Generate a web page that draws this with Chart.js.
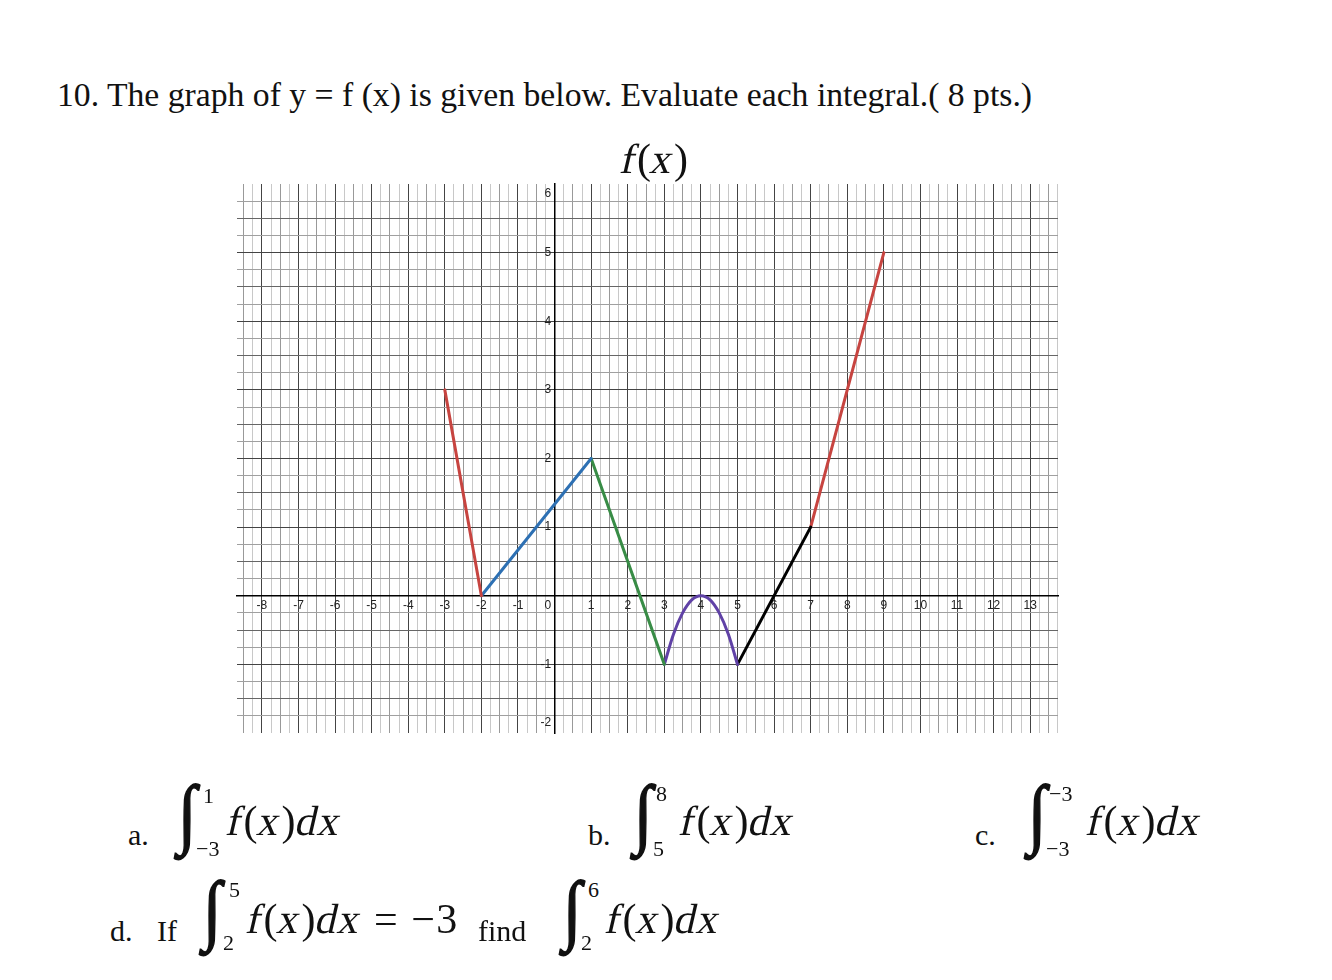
<!DOCTYPE html>
<html>
<head>
<meta charset="utf-8">
<script src="https://cdn.jsdelivr.net/npm/chart.js@4.4.1/dist/chart.umd.min.js"></script>
<style>
  html, body { margin: 0; padding: 0; background: #fff; }
  body { width: 1332px; height: 980px; position: relative; overflow: hidden; font-family: "Liberation Serif", serif; color: #111; }
  .abs { position: absolute; white-space: nowrap; line-height: 1; }
  .q { left: 57px; top: 78px; font-size: 33.7px; }
  .ttl { left: 622px; top: 138px; font-size: 42px; letter-spacing: 1px; }
  .lbl { font-size: 30px; }
  .int { font-size: 62px; transform: scale(1.1, 1.25); transform-origin: 0 0; -webkit-text-stroke: 1.2px #111; }
  .lim { font-size: 22px; }
  .body { font-size: 42px; letter-spacing: 1.5px; }
  .it { display: inline-block; transform: skewX(-13deg); }
</style>
</head>
<body>
<div class="abs q">10. The graph of y = f (x) is given below. Evaluate each integral.( 8 pts.)</div>

<div style="position:absolute;left:197px;top:144px;width:901px;height:629px;"><canvas id="graph" width="901" height="629"></canvas></div>
<div class="abs ttl"><span class="it">f</span>(<span class="it">x</span>)</div>

<!-- a -->
<div class="abs lbl" style="left:128px;top:820px;">a.</div>
<div class="abs int" style="left:178px;top:774px;">∫</div>
<div class="abs lim" style="left:203px;top:785px;">1</div>
<div class="abs lim" style="left:196px;top:838px;">−3</div>
<div class="abs body" style="left:228px;top:800px;"><span class="it">f</span>(<span class="it">x</span>)<span class="it">dx</span></div>

<!-- b -->
<div class="abs lbl" style="left:588px;top:820px;">b.</div>
<div class="abs int" style="left:634px;top:774px;">∫</div>
<div class="abs lim" style="left:656px;top:783px;">8</div>
<div class="abs lim" style="left:653px;top:838px;">5</div>
<div class="abs body" style="left:681px;top:800px;"><span class="it">f</span>(<span class="it">x</span>)<span class="it">dx</span></div>

<!-- c -->
<div class="abs lbl" style="left:975px;top:820px;">c.</div>
<div class="abs int" style="left:1028px;top:774px;">∫</div>
<div class="abs lim" style="left:1049px;top:783px;">−3</div>
<div class="abs lim" style="left:1046px;top:838px;">−3</div>
<div class="abs body" style="left:1088px;top:800px;"><span class="it">f</span>(<span class="it">x</span>)<span class="it">dx</span></div>

<!-- d -->
<div class="abs lbl" style="left:110px;top:916px;">d.</div>
<div class="abs lbl" style="left:157px;top:916px;">If</div>
<div class="abs int" style="left:203px;top:870px;">∫</div>
<div class="abs lim" style="left:229px;top:879px;">5</div>
<div class="abs lim" style="left:223px;top:932px;">2</div>
<div class="abs body" style="left:248px;top:898px;"><span class="it">f</span>(<span class="it">x</span>)<span class="it">dx</span> = −3</div>
<div class="abs lbl" style="left:478px;top:916px;">find</div>
<div class="abs int" style="left:563px;top:870px;">∫</div>
<div class="abs lim" style="left:588px;top:879px;">6</div>
<div class="abs lim" style="left:581px;top:932px;">2</div>
<div class="abs body" style="left:607px;top:898px;"><span class="it">f</span>(<span class="it">x</span>)<span class="it">dx</span></div>

<script>
// graph pieces of y = f(x)
const redLeftX  = [-3, -2];
const redLeftY  = [3, 0];
const blueX     = [-2, 1];
const blueY     = [0, 2];
const greenX    = [1, 3];
const greenY    = [2, -1];
const arcX      = [3, 3.25, 3.5, 3.75, 4, 4.25, 4.5, 4.75, 5];
const arcY      = [-1, -0.56, -0.25, -0.06, 0, -0.06, -0.25, -0.56, -1];
const blackX    = [5, 7];
const blackY    = [-1, 1];
const redRightX = [7, 9];
const redRightY = [1, 5];

const xLabels = [-8, -7, -6, -5, -4, -3, -2, -1, 1, 2, 3, 4, 5, 6, 7, 8, 9, 10, 11, 12, 13];
const yLabels = [-2, -1, 0, 1, 2, 3, 4, 5, 6];

const pts = (xs, ys) => xs.map((x, i) => ({ x, y: ys[i] }));

const line = (label, xs, ys, color, extra) => ({
  label,
  data: pts(xs, ys),
  showLine: true,
  borderColor: color,
  backgroundColor: color,
  borderWidth: 3,
  pointRadius: 0,
  borderCapStyle: 'round',
  borderJoinStyle: 'round',
  ...extra,
});

const isInt = v => Math.abs(v - Math.round(v)) < 1e-9;
const isHalf = v => Math.abs(v * 2 - Math.round(v * 2)) < 1e-9;

const tickFont = { family: '"Liberation Sans", Arial, sans-serif', size: 12 };

new Chart(document.getElementById('graph'), {
  type: 'scatter',
  data: {
    datasets: [
      line('red left',  redLeftX,  redLeftY,  '#c74440'),
      line('blue',      blueX,     blueY,     '#2d70b3'),
      line('green',     greenX,    greenY,    '#388c46'),
      line('purple',    arcX,      arcY,      '#6042a6', { cubicInterpolationMode: 'monotone' }),
      line('black',     blackX,    blackY,    '#000000'),
      line('red right', redRightX, redRightY, '#c74440'),
    ],
  },
  options: {
    responsive: false,
    animation: false,
    layout: { padding: 40 },
    plugins: { legend: { display: false }, tooltip: { enabled: false }, title: { display: false } },
    scales: {
      x: {
        type: 'linear',
        min: -8.68,
        max: 13.76,
        position: { y: 0 },
        border: { color: '#000', width: 1.5 },
        grid: {
          drawTicks: false,
          lineWidth: 1,
          color: ctx => isInt(ctx.tick.value) ? '#444' : isHalf(ctx.tick.value) ? '#999' : '#c8c8c8',
        },
        ticks: {
          stepSize: 0.25,
          includeBounds: false,
          autoSkip: false,
          maxRotation: 0,
          padding: 3,
          color: '#222',
          font: tickFont,
          callback: v => xLabels.includes(v) ? String(v) : '',
        },
      },
      y: {
        type: 'linear',
        min: -2,
        max: 6,
        position: { x: 0 },
        border: { color: '#000', width: 1.5 },
        grid: {
          drawTicks: false,
          lineWidth: 1,
          color: ctx => (ctx.tick.value === 6 || ctx.tick.value === -2) ? 'rgba(0,0,0,0)'
            : isInt(ctx.tick.value) ? '#444' : isHalf(ctx.tick.value) ? '#666' : '#a0a0a0',
        },
        ticks: {
          stepSize: 0.25,
          autoSkip: false,
          color: '#222',
          font: ctx => (ctx.tick && [6, 0, -2].includes(ctx.tick.value)) ? { ...tickFont, lineHeight: '20px' } : tickFont,
          callback: v => {
            if (!yLabels.includes(v)) return '';
            if (v === 6 || v === 0) return ['', v + ' '];
            if (v === -2) return [v + ' ', ''];
            return v + ' ';
          },
        },
      },
    },
  },
});
</script>
</body>
</html>
